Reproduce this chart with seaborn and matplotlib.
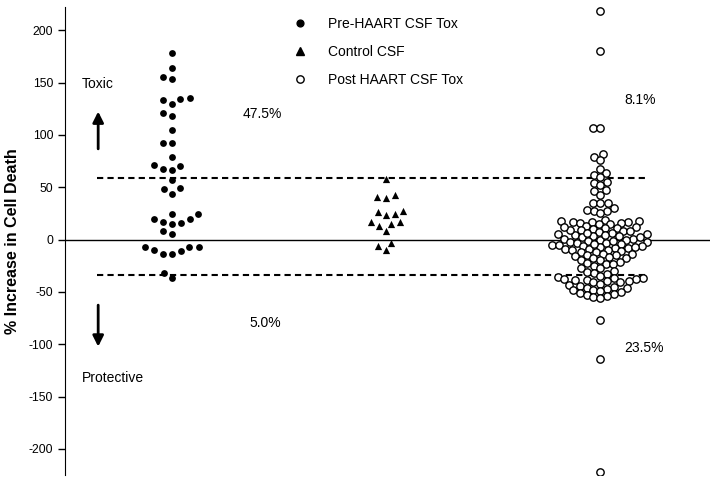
import numpy as np
import pandas as pd
import matplotlib
matplotlib.use("Agg")
import matplotlib.pyplot as plt
import seaborn as sns
from matplotlib.lines import Line2D
from matplotlib.collections import PathCollection

# values (% increase in cell death)
groups = ["Pre-HAART CSF Tox", "Control CSF", "Post HAART CSF Tox"]

pre_haart = [178, 164, 155, 153, 135, 134, 133, 130, 121, 118, 105, 92, 92, 79,
             71, 70, 67, 66, 57, 49, 48, 44, 24, 24, 20, 20, 17, 16, 15, 8, 5,
             -7, -7, -7, -10, -11, -14, -14, -32, -37]

control = [58, 43, 41, 40, 27, 26, 24, 23, 17, 17, 15, 13, 8, -3, -6, -10]

post_haart = [218, 180, 107, 107, 82, 79, 76, 67, 64, 62, 60,
              55, 54, 52, 47, 46, 43, 35, 35, 35, 30, 28, 27, 27, 25,
              19, 18, 18, 17, 17, 17, 16, 16, 15, 15,
              13, 12, 11, 11, 10, 9, 8, 8, 7, 6, 5, 5, 4, 3, 3, 2, 1, 1, 0, 0,
              -1, -2, -2, -3, -3, -4, -5, -5, -6, -6, -7, -8, -8, -9, -9, -10,
              -10, -11, -12, -12, 6, 2, -4, 9, -1, 4, -7, 12,
              -14, -14, -15, -15, -16, -17, -18, -18, -20, -20, -21, -22, -23,
              -23, -25, -27, -27, -30, -31, -32, -33,
              -35, -36, -37, -37, -38, -38, -39, -39, -40, -40, -41, -41, -42,
              -43, -44, -45, -46, -46, -47, -48, -48, -49, -50, -51, -52, -53,
              -54, -55, -56, -77, -114, -222]

toxic_cut = 59
protective_cut = -34
pct_labels = ["47.5%", "5.0%", "8.1%", "23.5%"]

df = pd.DataFrame({
    "group": [groups[0]] * len(pre_haart) + [groups[1]] * len(control) + [groups[2]] * len(post_haart),
    "value": pre_haart + control + post_haart,
})

sns.set_style("white")
plt.rcParams["font.family"] = ["Liberation Sans", "DejaVu Sans"]
plt.rcParams["axes.unicode_minus"] = False
for k in ["text.color", "axes.labelcolor", "xtick.color", "ytick.color"]:
    plt.rcParams[k] = "black"

fig = plt.figure(figsize=(7.14, 4.82), dpi=100)
ax = fig.add_axes([0.091, 0.0145, 0.903, 0.9705])

# swarm layout size vs. drawn size (the original lets markers overlap / spread out)
styles = [
    dict(color="black", marker="o", linewidth=0, layout=6.5, shown=4.9),
    dict(color="black", marker="^", linewidth=0, layout=6.2, shown=5.2),
    dict(color="white", edgecolor="black", marker="o", linewidth=1, layout=3.9, shown=5.3),
]
swarms = []
for g, st in zip(groups, styles):
    st = dict(st)
    layout, shown = st.pop("layout"), st.pop("shown")
    n_before = len(ax.collections)
    sns.swarmplot(data=df[df.group == g], x="group", y="value", order=groups,
                  size=layout, ax=ax, **st)
    for c in ax.collections[n_before:]:
        if len(c.get_offsets()) > 0:
            swarms.append((c, shown))

ax.set_xlim(-0.5, 2.51)
ax.set_ylim(-225, 222)
ax.axhline(0, color="black", lw=1)
ax.hlines([toxic_cut, protective_cut], -0.35, 2.21, colors="black", linestyles=(0, (3, 2)), lw=1.5)

ax.set_xticks([])
ax.set_xlabel("")
ax.set_yticks(np.arange(-200, 201, 50))
ax.tick_params(axis="y", direction="out", length=5, width=1, labelsize=8.8, left=True)
ax.set_ylabel("% Increase in Cell Death", fontsize=11.5, fontweight="bold", labelpad=6)
for s in ["top", "right", "bottom"]:
    ax.spines[s].set_visible(False)
ax.spines["left"].set_color("black")

# annotations
ax.text(-0.42, 149, "Toxic", fontsize=10, va="center")
ax.text(-0.42, -132, "Protective", fontsize=10, va="center")
ax.annotate("", xy=(-0.345, 125), xytext=(-0.345, 84),
            arrowprops=dict(arrowstyle="-|>", color="black", lw=2, mutation_scale=16))
ax.annotate("", xy=(-0.345, -105), xytext=(-0.345, -60),
            arrowprops=dict(arrowstyle="-|>", color="black", lw=2, mutation_scale=16))
ax.text(0.33, 120, pct_labels[0], fontsize=10, va="center")
ax.text(0.36, -80, pct_labels[1], fontsize=10, va="center")
ax.text(2.11, 133, pct_labels[2], fontsize=10, va="center")
ax.text(2.11, -104, pct_labels[3], fontsize=10, va="center")

handles = [
    Line2D([], [], marker="o", color="black", ls="", markersize=4.9),
    Line2D([], [], marker="^", color="black", ls="", markersize=5.2),
    Line2D([], [], marker="o", markerfacecolor="white", markeredgecolor="black", ls="", markersize=5.3),
]
ax.legend(handles, groups, loc="upper left", bbox_to_anchor=(0.335, 1.006), frameon=False,
          fontsize=10, labelspacing=1.0, handletextpad=1.5, handlelength=1.0)

# lay out the swarms, then freeze positions and set the drawn marker size
fig.canvas.draw()
for pts, shown in swarms:
    pts.draw = PathCollection.draw.__get__(pts)
    pts.set_sizes([shown ** 2])

plt.savefig("out.png", dpi=100)
